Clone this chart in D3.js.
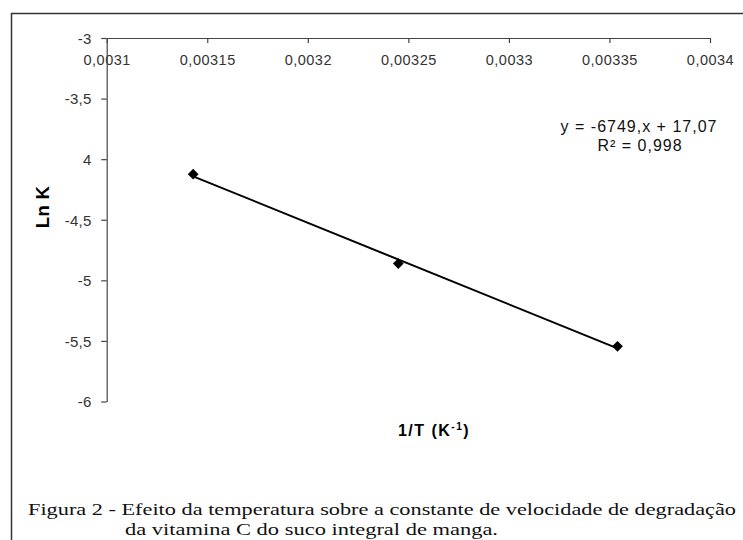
<!DOCTYPE html>
<html><head><meta charset="utf-8">
<script src="https://cdn.jsdelivr.net/npm/d3@7"></script>
<style>body{margin:0;background:#fff}svg{display:block}</style>
</head><body>
<svg id="c" width="743" height="540"></svg>
<script>
// ---- data ----
const invT = [0.003143, 0.003245, 0.003354];
const lnK = [-4.124, -4.862, -5.545];
const xTicks = [0.0031, 0.00315, 0.0032, 0.00325, 0.0033, 0.00335, 0.0034];
const xTickLabels = ["0,0031", "0,00315", "0,0032", "0,00325", "0,0033", "0,00335", "0,0034"];
const yTicks = [-3, -3.5, -4, -4.5, -5, -5.5, -6];
const yTickLabels = ["-3", "-3,5", "4", "-4,5", "-5", "-5,5", "-6"];
const equationText = "y = -6749,x + 17,07";
const r2Text = "R\u00B2 = 0,998";
const captionLine1 = "Figura 2 - Efeito da temperatura sobre a constante de velocidade de degradação";
const captionLine2 = "da vitamina C do suco integral de manga.";

const svg = d3.select("#c");
const sans = "'Liberation Sans', Arial, sans-serif";
const serif = "'Liberation Serif', 'Times New Roman', serif";

// outer frame
svg.append("path").attr("d", "M11.5,545 V13.5 H750")
  .attr("fill", "none").attr("stroke", "#333").attr("stroke-width", 1.5);

const x = d3.scaleLinear().domain([0.0031, 0.0034]).range([106.7, 710]);
const y = d3.scaleLinear().domain([-3, -6]).range([38, 401.5]);

// x axis (top)
const xAx = svg.append("g").attr("transform", "translate(0,38)")
  .call(d3.axisBottom(x).tickValues(xTicks).tickSizeInner(5).tickSizeOuter(0)
    .tickFormat((d, i) => xTickLabels[i]));
xAx.select(".domain").attr("stroke", "#444").attr("stroke-width", 1.2);
xAx.selectAll(".tick line").attr("stroke", "#444").attr("stroke-width", 1.2);
xAx.selectAll(".tick text").attr("y", 0).attr("dy", 26.5)
  .attr("font-family", sans).attr("font-size", 14.5).attr("letter-spacing", 0.5)
  .attr("fill", "#333");

// y axis (left)
const yAx = svg.append("g").attr("transform", "translate(106.7,0)")
  .call(d3.axisLeft(y).tickValues(yTicks).tickSizeInner(5.5).tickSizeOuter(0)
    .tickFormat((d, i) => yTickLabels[i]));
yAx.select(".domain").attr("stroke", "#444").attr("stroke-width", 1.2);
yAx.selectAll(".tick line").attr("stroke", "#444").attr("stroke-width", 1.2);
yAx.selectAll(".tick text").attr("x", -15).attr("dy", "0.36em")
  .attr("font-family", sans).attr("font-size", 15).attr("letter-spacing", 0.3)
  .attr("fill", "#333");

// linear trend line
const mx = d3.mean(invT), my = d3.mean(lnK);
const slope = d3.sum(invT, (v, i) => (v - mx) * (lnK[i] - my)) / d3.sum(invT, v => (v - mx) * (v - mx));
const icpt = my - slope * mx;
const x0 = d3.min(invT), x1 = d3.max(invT);
svg.append("line")
  .attr("x1", x(x0)).attr("y1", y(slope * x0 + icpt))
  .attr("x2", x(x1)).attr("y2", y(slope * x1 + icpt))
  .attr("stroke", "#000").attr("stroke-width", 2);

// markers
svg.selectAll(".pt").data(invT).enter().append("path")
  .attr("class", "pt")
  .attr("d", d3.symbol().type(d3.symbolSquare).size(58))
  .attr("transform", (d, i) => `translate(${x(d)},${y(lnK[i])}) rotate(45)`)
  .attr("fill", "#000");

// equation
svg.append("text").attr("x", 639).attr("y", 131.5).attr("text-anchor", "middle")
  .attr("font-family", sans).attr("font-size", 16).attr("letter-spacing", 1)
  .attr("fill", "#111").text(equationText);
svg.append("text").attr("x", 640).attr("y", 150.5).attr("text-anchor", "middle")
  .attr("font-family", sans).attr("font-size", 16).attr("letter-spacing", 1)
  .attr("fill", "#111").text(r2Text);

// axis titles
svg.append("text").attr("transform", "translate(48.5,207) rotate(-90)")
  .attr("text-anchor", "middle").attr("font-family", sans).attr("font-weight", "bold")
  .attr("font-size", 18.5).attr("letter-spacing", 0.3).attr("fill", "#000").text("Ln K");
const xt = svg.append("text").attr("x", 434).attr("y", 435.5).attr("text-anchor", "middle")
  .attr("font-family", sans).attr("font-weight", "bold").attr("font-size", 16)
  .attr("letter-spacing", 1.5).attr("fill", "#000");
xt.append("tspan").text("1/T (K");
xt.append("tspan").attr("font-size", 10).attr("dy", -6).text("-1");
xt.append("tspan").attr("dy", 6).text(")");

// caption (glyphs in the source are horizontally stretched; line 1 justified)
svg.append("text").attr("x", 28).attr("y", 515)
  .attr("font-family", serif).attr("font-size", 16.5).attr("fill", "#111")
  .attr("textLength", 708).attr("lengthAdjust", "spacingAndGlyphs").text(captionLine1);
svg.append("text").attr("x", 125).attr("y", 535)
  .attr("font-family", serif).attr("font-size", 16.5).attr("fill", "#111")
  .attr("textLength", 373).attr("lengthAdjust", "spacingAndGlyphs")
  .text(captionLine2);
</script>
</body></html>
